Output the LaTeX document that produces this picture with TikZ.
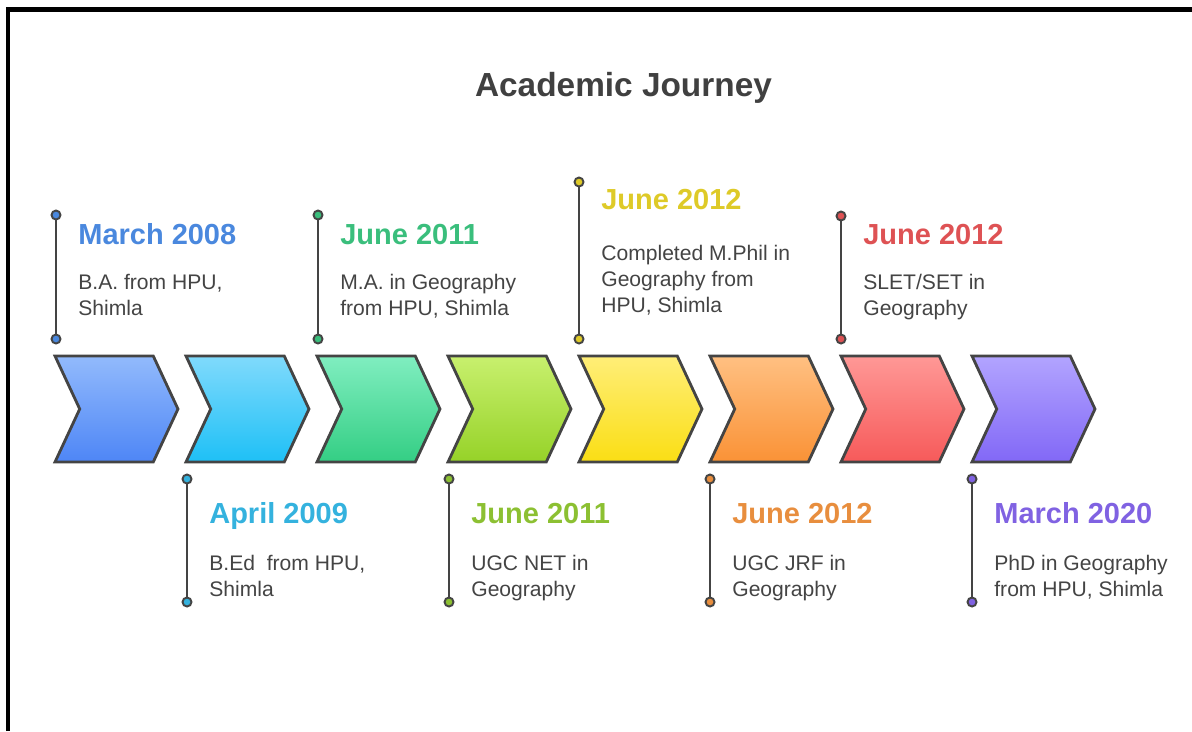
\documentclass[tikz,border=0pt]{standalone}
\usepackage{fontspec}
\setmainfont{Liberation Sans}
\usetikzlibrary{shapes.symbols}
\usepackage{xcolor}
\definecolor{textdark}{RGB}{68, 68, 68}
\definecolor{titledark}{RGB}{64, 64, 64}
% chevron shades, top and bottom
\definecolor{baTop}{RGB}{146, 186, 252}
\definecolor{baBot}{RGB}{78, 134, 246}
\definecolor{bedTop}{RGB}{128, 218, 252}
\definecolor{bedBot}{RGB}{30, 192, 246}
\definecolor{maTop}{RGB}{128, 238, 192}
\definecolor{maBot}{RGB}{52, 206, 132}
\definecolor{netTop}{RGB}{200, 240, 110}
\definecolor{netBot}{RGB}{150, 210, 40}
\definecolor{mphilTop}{RGB}{255, 238, 120}
\definecolor{mphilBot}{RGB}{250, 222, 20}
\definecolor{jrfTop}{RGB}{255, 192, 130}
\definecolor{jrfBot}{RGB}{250, 146, 54}
\definecolor{setTop}{RGB}{255, 152, 150}
\definecolor{setBot}{RGB}{246, 90, 90}
\definecolor{phdTop}{RGB}{178, 164, 255}
\definecolor{phdBot}{RGB}{130, 104, 246}
% date colours
\definecolor{baDate}{RGB}{74, 136, 222}
\definecolor{bedDate}{RGB}{52, 178, 222}
\definecolor{maDate}{RGB}{58, 190, 124}
\definecolor{netDate}{RGB}{140, 192, 50}
\definecolor{mphilDate}{RGB}{222, 202, 40}
\definecolor{jrfDate}{RGB}{232, 142, 62}
\definecolor{setDate}{RGB}{222, 82, 84}
\definecolor{phdDate}{RGB}{128, 98, 226}

\begin{document}
\begin{tikzpicture}[
    x=0.02cm, y=-0.02cm,
    chevron/.style={signal, signal from=west, signal to=east, signal pointer angle=130, draw=textdark, line width=1.6pt, minimum width=2.46cm, minimum height=2.12cm, inner sep=0pt},
    dot/.style={circle, draw=textdark, line width=1.1pt, inner sep=0pt, minimum size=0.18cm},
    stem/.style={draw=textdark, line width=1.6pt},
    datelabel/.style={anchor=base west, inner sep=0pt, font=\fontsize{16.5}{18}\selectfont\bfseries},
    info/.style={anchor=base west, inner sep=0pt, align=left, text=textdark, font=\fontsize{12}{14.8}\selectfont}
]
\useasboundingbox (0,0) rectangle (1192,731);

% Frame
\draw[line width=2.3pt, black] (8,731) -- (8,9.5) -- (1192,9.5);

% Title
\node[anchor=base, text=titledark, font=\fontsize{19}{21}\selectfont\bfseries] (title) at (623.5,96) {Academic Journey};

% Chevrons
\node[chevron, top color=baTop, bottom color=baBot] (ba) at (116.5,409) {};
\node[chevron, top color=bedTop, bottom color=bedBot] (bed) at (247.5,409) {};
\node[chevron, top color=maTop, bottom color=maBot] (ma) at (378.5,409) {};
\node[chevron, top color=netTop, bottom color=netBot] (net) at (509.5,409) {};
\node[chevron, top color=mphilTop, bottom color=mphilBot] (mphil) at (640.5,409) {};
\node[chevron, top color=jrfTop, bottom color=jrfBot] (jrf) at (771.5,409) {};
\node[chevron, top color=setTop, bottom color=setBot] (set) at (902.5,409) {};
\node[chevron, top color=phdTop, bottom color=phdBot] (phd) at (1033.5,409) {};

% Markers above
\node[dot, fill=baDate] (ba-a) at (56,215) {};
\node[dot, fill=baDate] (ba-b) at (56,339) {};
\node[dot, fill=maDate] (ma-a) at (318,215) {};
\node[dot, fill=maDate] (ma-b) at (318,339) {};
\node[dot, fill=mphilDate] (mphil-a) at (579,182) {};
\node[dot, fill=mphilDate] (mphil-b) at (579,339) {};
\node[dot, fill=setDate] (set-a) at (841,216) {};
\node[dot, fill=setDate] (set-b) at (841,339) {};

% Markers below
\node[dot, fill=bedDate] (bed-a) at (187,479) {};
\node[dot, fill=bedDate] (bed-b) at (187,602) {};
\node[dot, fill=netDate] (net-a) at (449,479) {};
\node[dot, fill=netDate] (net-b) at (449,602) {};
\node[dot, fill=jrfDate] (jrf-a) at (710,479) {};
\node[dot, fill=jrfDate] (jrf-b) at (710,602) {};
\node[dot, fill=phdDate] (phd-a) at (972,479) {};
\node[dot, fill=phdDate] (phd-b) at (972,602) {};

\draw[stem] (ba-a) -- (ba-b);
\draw[stem] (ma-a) -- (ma-b);
\draw[stem] (mphil-a) -- (mphil-b);
\draw[stem] (set-a) -- (set-b);
\draw[stem] (bed-a) -- (bed-b);
\draw[stem] (net-a) -- (net-b);
\draw[stem] (jrf-a) -- (jrf-b);
\draw[stem] (phd-a) -- (phd-b);

% Dates and details (info nodes sit on their last line)
\node[datelabel, text=baDate] (ba-date) at (78,244) {March 2008};
\node[info] (ba-text) at (78,315) {B.A. from HPU,\\Shimla};

\node[datelabel, text=bedDate] (bed-date) at (209,523) {April 2009};
\node[info] (bed-text) at (209,596) {B.Ed~ from HPU,\\Shimla};

\node[datelabel, text=maDate] (ma-date) at (340,244) {June 2011};
\node[info] (ma-text) at (340,315) {M.A. in Geography\\from HPU, Shimla};

\node[datelabel, text=netDate] (net-date) at (471,523) {June 2011};
\node[info] (net-text) at (471,596) {UGC NET in\\Geography};

\node[datelabel, text=mphilDate] (mphil-date) at (601,209) {June 2012};
\node[info] (mphil-text) at (601,312) {Completed M.Phil in\\Geography from\\HPU, Shimla};

\node[datelabel, text=jrfDate] (jrf-date) at (732,523) {June 2012};
\node[info] (jrf-text) at (732,596) {UGC JRF in\\Geography};

\node[datelabel, text=setDate] (set-date) at (863,244) {June 2012};
\node[info] (set-text) at (863,315) {SLET/SET in\\Geography};

\node[datelabel, text=phdDate] (phd-date) at (994,523) {March 2020};
\node[info] (phd-text) at (994,596) {PhD in Geography\\from HPU, Shimla};

\end{tikzpicture}
\end{document}
